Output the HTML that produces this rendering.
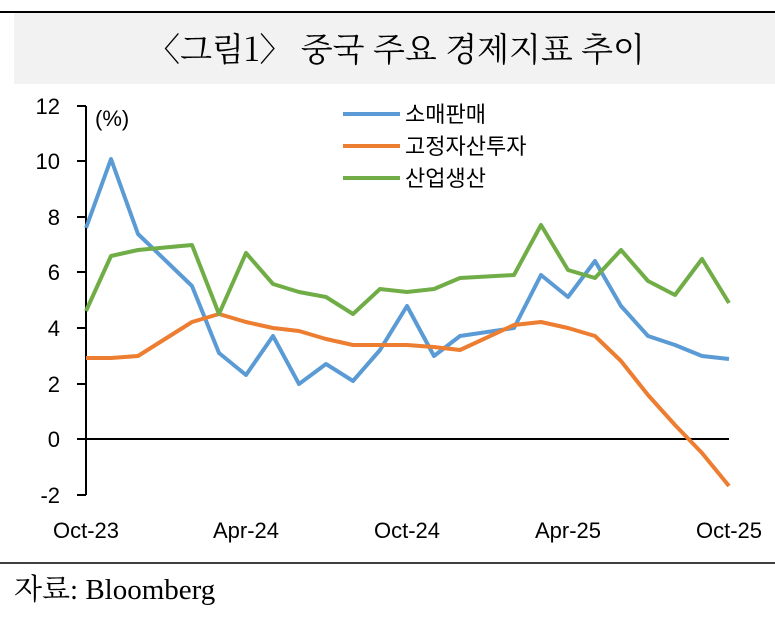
<!DOCTYPE html><html><head><meta charset="utf-8"><style>
body{margin:0;background:#fff;width:775px;height:617px;overflow:hidden}
</style></head><body>
<svg width="775" height="617" xmlns="http://www.w3.org/2000/svg" style="position:absolute;left:0;top:0">
<line x1="0" y1="12" x2="775" y2="12" stroke="#000" stroke-width="2"/>
<rect x="14" y="13" width="761" height="71" fill="#f2f2f2"/>
<text x="396" y="61" text-anchor="middle" font-family="'Noto Serif CJK SC','Liberation Serif',serif" font-size="33" fill="#000">〈그림1〉 중국 주요 경제지표 추이</text>
<g font-family="'Liberation Sans','Noto Sans CJK KR',sans-serif" font-size="22" fill="#000">
<g text-anchor="end">
<text x="60" y="114">12</text><text x="60" y="169">10</text><text x="60" y="225">8</text><text x="60" y="280">6</text><text x="60" y="336">4</text><text x="60" y="392">2</text><text x="60" y="447">0</text><text x="60" y="503">-2</text>
</g>
<text x="95" y="126">(%)</text>
<g text-anchor="middle">
<text x="86" y="538">Oct-23</text><text x="246" y="538">Apr-24</text><text x="407" y="538">Oct-24</text><text x="568" y="538">Apr-25</text><text x="729" y="538">Oct-25</text>
</g>
<text x="405" y="122">소매판매</text><text x="405" y="154">고정자산투자</text><text x="405" y="186">산업생산</text>
</g>
<g stroke="#000" stroke-width="2">
<line x1="86" y1="106" x2="86" y2="495"/>
<line x1="77" y1="106" x2="86" y2="106"/><line x1="77" y1="161" x2="86" y2="161"/><line x1="77" y1="217" x2="86" y2="217"/><line x1="77" y1="272" x2="86" y2="272"/><line x1="77" y1="328" x2="86" y2="328"/><line x1="77" y1="384" x2="86" y2="384"/><line x1="77" y1="439" x2="86" y2="439"/><line x1="77" y1="495" x2="86" y2="495"/>
<line x1="86" y1="439" x2="729" y2="439"/>
</g>
<g stroke-width="4" fill="none" stroke-linejoin="round">
<line x1="343" y1="114" x2="400" y2="114" stroke="#5b9bd5"/>
<line x1="343" y1="146" x2="400" y2="146" stroke="#ed7d31"/>
<line x1="343" y1="178" x2="400" y2="178" stroke="#70ad47"/>
<polyline stroke="#5b9bd5" points="86,228 111,159 138,234 192,286 219,353 246,375 273,336 299,384 326,364 353,381 380,350 407,306 434,356 460,336 514,328 541,275 568,297 595,261 621,306 648,336 675,345 702,356 729,359"/>
<polyline stroke="#ed7d31" points="86,358 111,358 138,356 192,322 219,314 246,322 273,328 299,331 326,339 353,345 380,345 407,345 434,347 460,350 514,325 541,322 568,328 595,336 621,361 648,395 675,425 702,453 729,486"/>
<polyline stroke="#70ad47" points="86,311 111,256 138,250 192,245 219,314 246,253 273,284 299,292 326,297 353,314 380,289 407,292 434,289 460,278 514,275 541,225 568,270 595,278 621,250 648,281 675,295 702,259 729,303"/>
</g>
<line x1="0" y1="563" x2="775" y2="563" stroke="#000" stroke-width="1.5"/>
<text x="14" y="599" font-family="'Liberation Serif','Noto Serif CJK SC',serif" font-size="29" fill="#000">자료: Bloomberg</text>
</svg>
</body></html>
